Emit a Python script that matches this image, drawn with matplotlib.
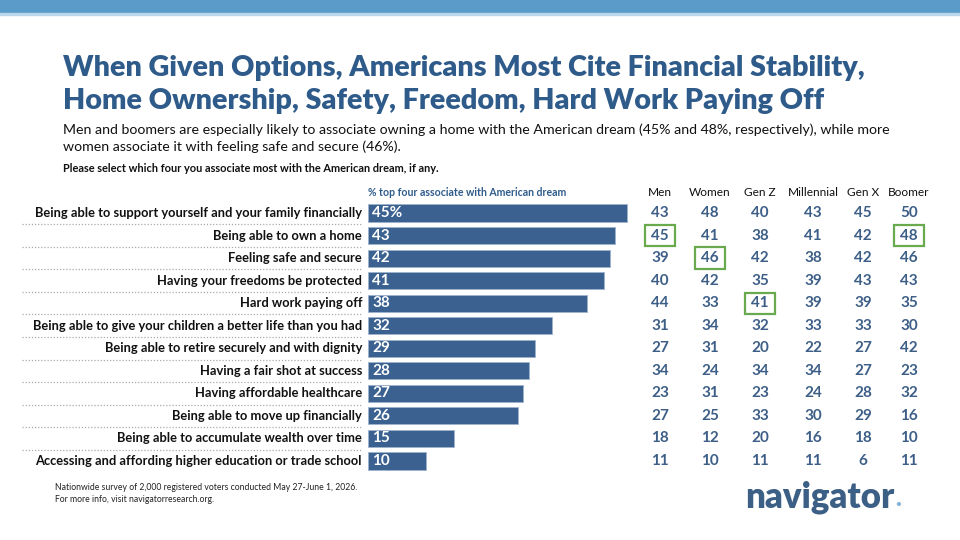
import matplotlib.pyplot as plt
import matplotlib.transforms as mtransforms
from matplotlib.patches import Rectangle

plt.rcParams["font.family"] = ["Lato", "DejaVu Sans"]

# ---- data -------------------------------------------------------------
items = [
    "Being able to support yourself and your family financially",
    "Being able to own a home",
    "Feeling safe and secure",
    "Having your freedoms be protected",
    "Hard work paying off",
    "Being able to give your children a better life than you had",
    "Being able to retire securely and with dignity",
    "Having a fair shot at success",
    "Having affordable healthcare",
    "Being able to move up financially",
    "Being able to accumulate wealth over time",
    "Accessing and affording higher education or trade school",
]
overall = [45, 43, 42, 41, 38, 32, 29, 28, 27, 26, 15, 10]

groups = ["Men", "Women", "Gen Z", "Millennial", "Gen X", "Boomer"]
men = [43, 45, 39, 40, 44, 31, 27, 34, 23, 27, 18, 11]
women = [48, 41, 46, 42, 33, 34, 31, 24, 31, 25, 12, 10]
gen_z = [40, 38, 42, 35, 41, 32, 20, 34, 23, 33, 20, 11]
millennial = [43, 41, 38, 39, 39, 33, 22, 34, 24, 30, 16, 11]
gen_x = [45, 42, 42, 43, 39, 33, 27, 27, 28, 29, 18, 6]
boomer = [50, 48, 46, 43, 35, 30, 42, 23, 32, 16, 10, 11]
group_values = [men, women, gen_z, millennial, gen_x, boomer]

# (group index, row index) of the highlighted cells
highlights = [(0, 1), (1, 2), (2, 4), (5, 1)]

# ---- style ------------------------------------------------------------
NAVY = "#2f5b8a"
BAR = "#3a6190"
NUM = "#3d5f87"
GREEN = "#6aaa4f"

W, H = 960, 540
fig = plt.figure(figsize=(9.6, 5.4), dpi=100)


def fx(px):
    return px / W


def fy(py):
    return 1 - py / H


# top banner
fig.patches.append(Rectangle((0, fy(13)), 1, 13 / H, transform=fig.transFigure,
                             color="#5b9bc9", zorder=0))
fig.patches.append(Rectangle((0, fy(15)), 1, 2 / H, transform=fig.transFigure,
                             color="#b9d6ea", zorder=0))

fig.text(fx(63), fy(68), "When Given Options, Americans Most Cite Financial Stability,",
         fontsize=20.7, fontweight="heavy", color=NAVY, va="center")
fig.text(fx(63), fy(101), "Home Ownership, Safety, Freedom, Hard Work Paying Off",
         fontsize=20.7, fontweight="heavy", color=NAVY, va="center")
fig.text(fx(63), fy(130),
         "Men and boomers are especially likely to associate owning a home with the American dream (45% and 48%, respectively), while more",
         fontsize=10.2, color="#111111", va="center")
fig.text(fx(63), fy(147),
         "women associate it with feeling safe and secure (46%).",
         fontsize=10.2, color="#111111", va="center")
fig.text(fx(63), fy(168),
         "Please select which four you associate most with the American dream, if any.",
         fontsize=7.9, fontweight="bold", color="#111111", va="center")

# ---- bars -------------------------------------------------------------
scale = (627 - 368) / 45.0
ax = fig.add_axes([fx(368), fy(472.3), fx(640 - 368), (472.3 - 201.7) / H])
n = len(items)
ypos = list(range(n))
ax.barh(ypos, overall, height=0.76, color=BAR, edgecolor="#9fb4cc", linewidth=0.6)
ax.set_xlim(0, (640 - 368) / scale)
ax.set_ylim(n - 0.5, -0.5)
ax.axis("off")

for i, v in enumerate(overall):
    lab = f"{v}%" if i == 0 else f"{v}"
    ax.text(0.7, i, lab, color="white", fontsize=11, fontweight="bold",
            va="center", ha="left")

ax.text(0.0, -0.9, "% top four associate with American dream", fontsize=7.6,
        fontweight="bold", color=NAVY, ha="left", va="center")

tr = mtransforms.blended_transform_factory(fig.transFigure, ax.transData)
for i, label in enumerate(items):
    ax.text(fx(362), i, label, transform=tr, ha="right", va="center",
            fontsize=9.3, fontweight="bold", color="#111111")
    if i < n - 1:
        ax.plot([fx(22), fx(362)], [i + 0.5, i + 0.5], transform=tr,
                color="#aaaaaa", linestyle=(0, (1, 1.5)), linewidth=0.9,
                clip_on=False)

# ---- demographic table ------------------------------------------------
col_x = [660, 710, 760, 813, 863, 909]
for g, name in enumerate(groups):
    ax.text(fx(col_x[g]), -0.9, name, transform=tr, ha="center", va="center",
            fontsize=8.6, color="#111111")
    for i, v in enumerate(group_values[g]):
        ax.text(fx(col_x[g]), i, f"{v}", transform=tr, ha="center", va="center",
                fontsize=11, fontweight="bold", color=NUM)

for g, i in highlights:
    ax.add_patch(Rectangle((fx(col_x[g] - 15), i - 0.47), 30 / W, 0.94,
                           transform=tr, fill=False, edgecolor=GREEN,
                           linewidth=1.6, clip_on=False))

# ---- footer -----------------------------------------------------------
fig.text(fx(55), fy(488), "Nationwide survey of 2,000 registered voters conducted May 27-June 1, 2026.",
         fontsize=6.2, color="#222222", va="center")
fig.text(fx(55), fy(500), "For more info, visit navigatorresearch.org.",
         fontsize=6.2, color="#222222", va="center")
fig.text(fx(745), fy(508), "navigator", fontsize=25, fontweight="heavy",
         color="#3c5f86", va="baseline")
fig.text(fx(898), fy(505), "\u2022", fontsize=7, fontweight="bold",
         color="#7fb2da", va="center", ha="center")

fig.savefig("out.png", dpi=100)
